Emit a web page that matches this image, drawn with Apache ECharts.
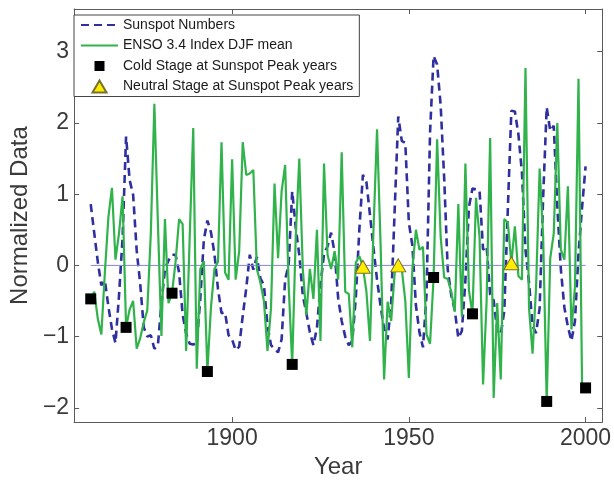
<!DOCTYPE html>
<html>
<head>
<meta charset="utf-8">
<script src="https://cdn.jsdelivr.net/npm/echarts@6/dist/echarts.min.js"></script>
<style>
  html, body { margin: 0; padding: 0; background: #fff; }
  #chart { width: 614px; height: 484px; }
</style>
</head>
<body>
<div id="chart"></div>
<script>
// Annual series, one value per year starting at START_YEAR
const START_YEAR = 1860;

// Sunspot numbers, normalized (z-score)
const sunspotNorm = [
   0.86,  0.45,  0.05, -0.28, -0.21, -0.58, -0.89, -1.09, -0.42,  0.38,
   1.81,  1.20,  0.99,  0.21, -0.26, -0.87, -1.00, -0.98, -1.17, -1.12,
  -0.54, -0.05,  0.07,  0.15,  0.15, -0.10, -0.69, -0.96, -1.10, -1.11,
  -1.09, -0.46,  0.36,  0.63,  0.47,  0.16, -0.33, -0.67, -0.66, -0.98,
  -1.04, -1.19, -1.14, -0.71, -0.32,  0.15, -0.06,  0.12, -0.18, -0.28,
  -0.84, -1.12, -1.17, -1.22, -1.04, -0.20,  0.01,  1.04,  0.53,  0.15,
  -0.42, -0.67, -0.94, -1.12, -0.88, -0.27,  0.16,  0.27,  0.46,  0.18,
  -0.46, -0.78, -1.00, -1.12, -1.06, -0.45,  0.51,  1.27,  1.17,  0.71,
   0.24, -0.20, -0.57, -0.89, -1.04, -0.52,  0.79,  2.09,  1.75,  1.72,
   0.60,  0.28, -0.56, -0.94, -1.15, -0.41,  1.87,  2.94,  2.82,  2.25,
   1.22, -0.06, -0.42, -0.63, -1.02, -0.92, -0.21,  0.82,  1.08,  1.07,
   1.05,  0.22,  0.27, -0.41, -0.49, -0.91, -0.97, -0.64,  0.79,  2.17,
   2.16,  1.84,  1.30,  0.22, -0.24, -0.85, -0.95, -0.60,  0.96,  2.22,
   1.89,  1.96,  0.83, -0.05, -0.59, -0.86, -1.06, -0.78,  0.17,  0.81,
   1.39
];

// ENSO 3.4 index, DJF mean, normalized
const ensoDJF = [
  -0.47, -0.37, -0.75, -0.97, -0.10,  0.68,  1.09,  0.08,  0.45,  0.97,
  -0.87, -0.62, -0.50, -1.17, -1.02, -0.80, -0.63,  0.45,  2.27,  0.60,
  -0.99,  0.65, -0.53, -0.39,  0.05,  0.65,  0.58, -1.20,  0.40,  1.93,
  -1.45, -0.05,  0.06, -1.49, -0.60, -0.05,  0.05,  1.73, -0.10, -0.20,
   1.49, -0.20,  0.20,  1.73,  1.27,  1.29,  1.34, -0.05, -0.24, -0.50,
  -1.20, -0.60,  1.15,  0.10,  1.04,  1.41, -0.28, -1.39,  0.40,  1.50,
  -0.05, -0.70, -0.05, -0.47,  0.50, -1.06,  1.43,  0.15, -0.05,  0.20,
  -0.20,  1.59, -0.37, -0.40, -1.15,  0.04,  0.13, -0.02, -0.37, -1.06,
   0.50,  1.91,  0.30, -1.60, -0.51, -0.78, -0.10,  0.00, -0.05, -0.50,
  -1.58, -0.05,  0.50,  0.22,  0.26, -0.97, -1.10, -0.17,  1.77,  0.40,
  -0.17, -0.19, -0.37, -0.65,  0.86, -0.72,  1.43, -0.35, -0.68,  0.95,
   0.40, -1.67, -0.50,  1.79, -1.86, -0.53, -1.60,  0.65,  0.60,  0.03,
   0.55, -0.15, -0.20,  2.77, -0.60, -1.24, -0.30,  1.36,  0.40, -1.91,
   0.10,  0.45,  2.00,  0.22,  0.08,  1.11, -0.90, -0.30,  2.62, -1.65,
  -1.72
];

// Sunspot peak years classified by ENSO phase
const coldYears    = [1860, 1870, 1883, 1893, 1917, 1957, 1968, 1989, 2000];
const coldValues   = [-0.47, -0.87, -0.39, -1.49, -1.39, -0.17, -0.68, -1.91, -1.72];
const neutralYears  = [1937, 1947, 1979];
const neutralValues = [-0.02, 0.00, 0.03];

const xTicks = [1900, 1950, 2000];
const yTicks = [-2, -1, 0, 1, 2, 3];

const FONT = '"Liberation Sans", Arial, Helvetica, sans-serif';
const AXIS_COLOR = '#5a5a5a';
const TEXT_COLOR = '#3a3a3a';

// Legend glyphs: a small marker centred in a 37x12 icon box
const ICON_SQUARE   = 'path://M0 0M37 12M13.5 1L23.5 1L23.5 11L13.5 11Z';
const ICON_TRIANGLE = 'path://M0 0M37 12M18.5 0L25.5 12L11.5 12Z';

const pairs = (xs, ys) => ys.map((v, i) => [xs[i], v]);
const years = sunspotNorm.map((_, i) => START_YEAR + i);
const lastYear = years[years.length - 1];

const fmtNum = v => (v < 0 ? '\u2212' + Math.abs(v) : String(v));

function boxAxis(extra) {
  return Object.assign({
    type: 'value',
    axisLine: { show: true, onZero: false, lineStyle: { color: AXIS_COLOR, width: 1 } },
    splitLine: { show: false },
    axisLabel: { show: false }
  }, extra);
}
const ticks = vals => ({ show: true, inside: true, length: 5, customValues: vals, lineStyle: { color: AXIS_COLOR, width: 1 } });

const chart = echarts.init(document.getElementById('chart'), null, { renderer: 'canvas' });

chart.setOption({
  animation: false,
  backgroundColor: '#fff',
  grid: { left: 69, right: 10, top: 9, bottom: 52, containLabel: false },
  xAxis: [
    boxAxis({
      position: 'bottom', min: 1855.3, max: 2004.7,
      axisTick: ticks(xTicks),
      axisLabel: { show: true, customValues: xTicks, fontSize: 23, fontFamily: FONT, color: TEXT_COLOR, margin: 5, formatter: v => String(v) },
      name: 'Year', nameLocation: 'middle', nameGap: 27,
      nameTextStyle: { fontSize: 24, fontFamily: FONT, color: TEXT_COLOR }
    }),
    boxAxis({ position: 'top', min: 1855.3, max: 2004.7, axisTick: ticks(xTicks) })
  ],
  yAxis: [
    boxAxis({
      position: 'left', min: -2.2, max: 3.6,
      axisTick: ticks(yTicks),
      axisLabel: { show: true, customValues: yTicks, fontSize: 23, fontFamily: FONT, color: TEXT_COLOR, margin: 5, formatter: fmtNum },
      name: 'Normalized Data', nameLocation: 'middle', nameGap: 39, nameRotate: 90,
      nameTextStyle: { fontSize: 24, fontFamily: FONT, color: TEXT_COLOR }
    }),
    boxAxis({ position: 'right', min: -2.2, max: 3.6, axisTick: ticks(yTicks) })
  ],
  legend: {
    orient: 'vertical',
    left: 74, top: 15,
    backgroundColor: '#fff',
    borderColor: '#444', borderWidth: 1, borderRadius: 0,
    padding: [3, 6, 3, 6],
    itemGap: 6.5, itemWidth: 37, itemHeight: 12,
    textStyle: { fontSize: 14, fontFamily: FONT, color: '#1a1a1a' },
    data: [
      { name: 'Sunspot Numbers', itemStyle: { opacity: 0 } },
      { name: 'ENSO 3.4 Index DJF mean', itemStyle: { opacity: 0 } },
      { name: 'Cold Stage at Sunspot Peak years', icon: ICON_SQUARE, itemStyle: { opacity: 1 } },
      { name: 'Neutral Stage at Sunspot Peak years', icon: ICON_TRIANGLE, itemStyle: { opacity: 1 } }
    ]
  },
  series: [
    {
      name: 'Sunspot Numbers', type: 'line', z: 2,
      data: pairs(years, sunspotNorm),
      showSymbol: false, symbol: 'none',
      lineStyle: { color: '#2f2f9f', width: 2.6, type: [8, 5] },
      itemStyle: { color: '#2f2f9f' }
    },
    {
      name: 'zero', type: 'line', z: 2, silent: true,
      data: [[START_YEAR, 0], [lastYear, 0]],
      showSymbol: false, symbol: 'none',
      lineStyle: { color: '#8585e0', width: 1 }
    },
    {
      name: 'ENSO 3.4 Index DJF mean', type: 'line', z: 3,
      data: pairs(years, ensoDJF),
      showSymbol: false, symbol: 'none',
      lineStyle: { color: '#31b34b', width: 2.2 },
      itemStyle: { color: '#31b34b' }
    },
    {
      name: 'Cold Stage at Sunspot Peak years', type: 'scatter', z: 5,
      data: pairs(coldYears, coldValues),
      symbol: 'rect', symbolSize: 11,
      itemStyle: { color: '#000', opacity: 1 }
    },
    {
      name: 'Neutral Stage at Sunspot Peak years', type: 'scatter', z: 5,
      data: pairs(neutralYears, neutralValues),
      symbol: 'triangle', symbolSize: [15, 13],
      itemStyle: { color: '#ffec00', borderColor: '#77702a', borderWidth: 1, opacity: 1 }
    }
  ]
});
</script>
</body>
</html>
